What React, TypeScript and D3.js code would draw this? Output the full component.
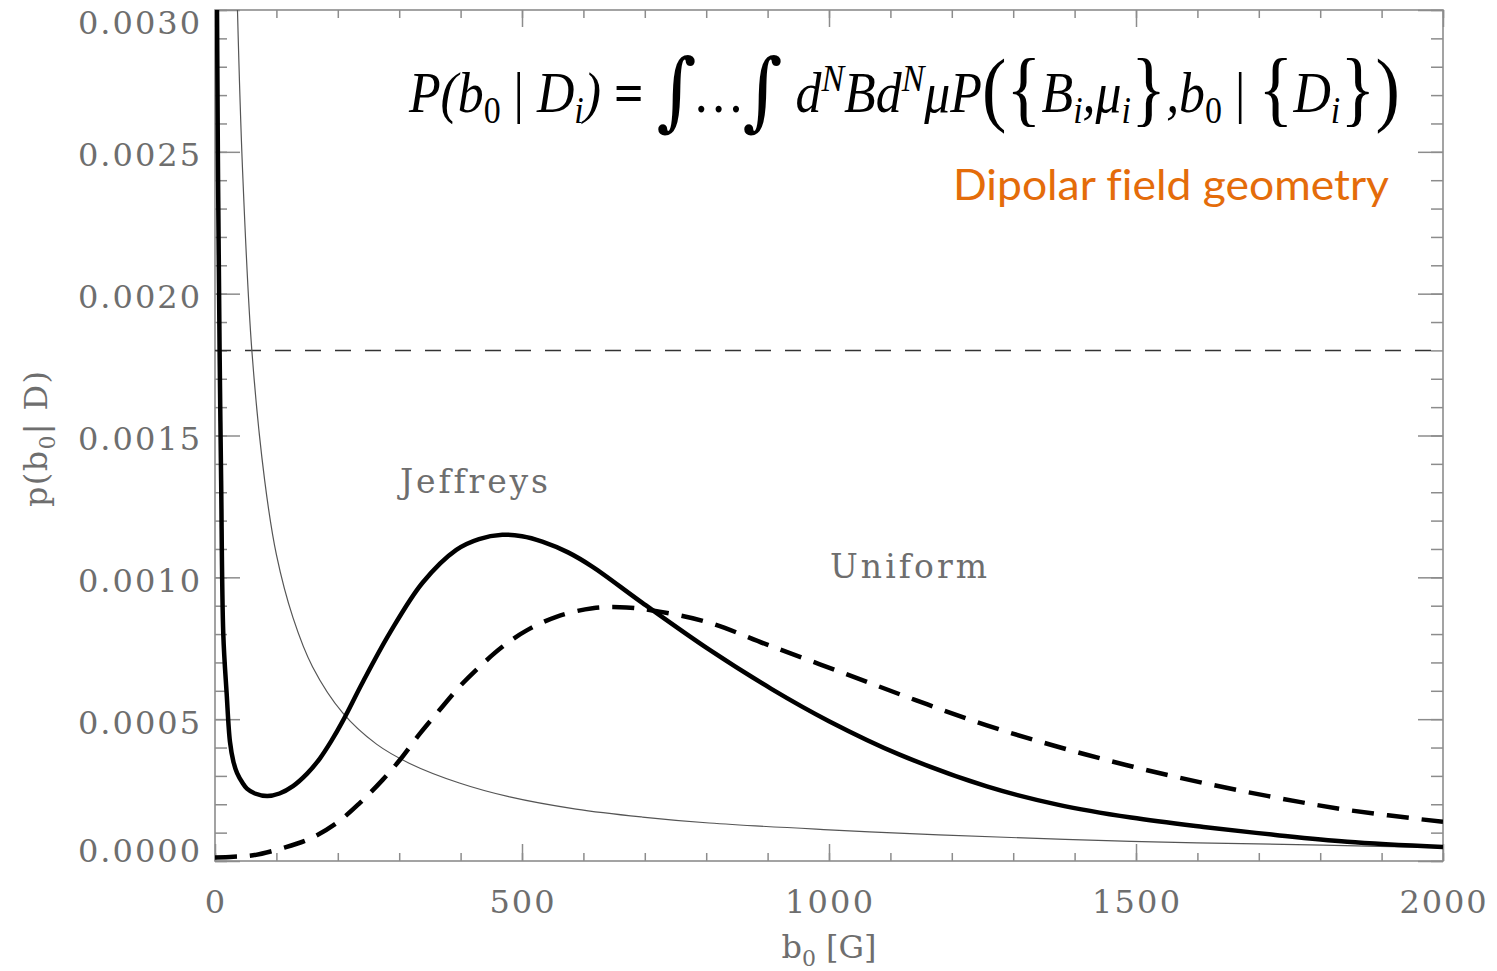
import React, { useEffect, useRef } from "react";
import * as d3 from "d3";

const W = 1497;
const H = 971;

// posterior with Jeffreys prior (thick solid)
const jeffreysB = [1, 2, 3, 5, 7.5, 10, 13.5, 19, 24.4, 30, 36, 45, 52, 65, 85, 105, 127, 150, 171, 190, 208, 241, 285, 338, 393, 430, 468, 500, 533, 575, 615, 696, 805, 906, 1000, 1114, 1257, 1374, 1492, 1610, 1727, 1844, 2000];
const jeffreysP = [0.0060, 0.0042, 0.0031, 0.0024, 0.0018, 0.00134, 0.0008, 0.00059, 0.00042, 0.00035, 0.00031, 0.000275, 0.000255, 0.000238, 0.000229, 0.000238, 0.000264, 0.000308, 0.000362, 0.000425, 0.000493, 0.000632, 0.000805, 0.000981, 0.001097, 0.001135, 0.00115, 0.001145, 0.001126, 0.001088, 0.001037, 0.00091, 0.000745, 0.000607, 0.000493, 0.000376, 0.000263, 0.000198, 0.000153, 0.00012, 0.000092, 0.000068, 0.000049];

// posterior with uniform prior (thick dashed)
const uniformB = [0, 30, 62, 111, 154, 198, 236, 273, 301, 333, 366, 398, 431, 468, 507, 556, 615, 670, 724, 805, 906, 1023, 1140, 1257, 1374, 1492, 1610, 1727, 1844, 2000];
const uniformP = [0.000012, 0.000015, 0.00002, 0.000046, 0.000078, 0.000134, 0.000205, 0.000286, 0.000356, 0.000447, 0.000533, 0.000614, 0.000685, 0.000755, 0.000812, 0.000861, 0.000891, 0.000894, 0.000879, 0.00084, 0.000757, 0.000663, 0.000568, 0.000478, 0.000402, 0.000334, 0.000275, 0.000224, 0.00018, 0.000138];

// the Jeffreys prior itself (thin gray)
const priorB = [20, 30, 36.6, 45, 60, 81, 100, 127, 159, 208, 263, 317, 398, 480, 588, 696, 805, 1000, 1179, 1492, 1805, 2000];
const priorP = [0.0055, 0.0037, 0.003, 0.00243, 0.0018, 0.00134, 0.00108, 0.000858, 0.000684, 0.000522, 0.000412, 0.000344, 0.000275, 0.000226, 0.000183, 0.000155, 0.000134, 0.00011, 0.000092, 0.000069, 0.000056, 0.000047];

const refLevel = 0.0018;

const xTicks = [0, 500, 1000, 1500, 2000];
const xTickLabels = ["0", "500", "1000", "1500", "2000"];
const yTicks = [0, 0.0005, 0.001, 0.0015, 0.002, 0.0025, 0.003];
const yTickLabels = ["0.0000", "0.0005", "0.0010", "0.0015", "0.0020", "0.0025", "0.0030"];

type Piece = { t: string; k?: "sub" | "subup" | "sup" | "big" | "int" | "up" | "eq" };
const equation: Piece[] = [
  { t: "P(b" }, { t: "0", k: "subup" }, { t: " | ", k: "up" }, { t: "D" }, { t: "i", k: "sub" }, { t: ")" },
  { t: " = ", k: "eq" }, { t: "\u222B", k: "int" }, { t: "\u2026" }, { t: "\u222B", k: "int" },
  { t: " d" }, { t: "N", k: "sup" }, { t: "Bd" }, { t: "N", k: "sup" }, { t: "\u03BCP" },
  { t: "(", k: "big" }, { t: "{", k: "big" }, { t: "B" }, { t: "i", k: "sub" }, { t: "," }, { t: "\u03BC" },
  { t: "i", k: "sub" }, { t: "}", k: "big" }, { t: "," }, { t: "b" }, { t: "0", k: "subup" }, { t: " | ", k: "up" },
  { t: "{", k: "big" }, { t: "D" }, { t: "i", k: "sub" }, { t: "}", k: "big" }, { t: ")", k: "big" },
];

const GRAY = "#6e6e6e";
const AXIS = "#8c8c8c";
const SERIF = "'DejaVu Serif', serif";

export default function App() {
  const svgRef = useRef<SVGSVGElement>(null);

  useEffect(() => {
    document.body.style.margin = "0";
    const svg = d3.select(svgRef.current);
    svg.selectAll("*").remove();

    const m = { left: 215, right: 1443, top: 10, bottom: 861 };
    const x = d3.scaleLinear().domain([0, 2000]).range([m.left, m.right]);
    const y = d3.scaleLinear().domain([0, 0.003]).range([m.bottom, m.top]);

    svg.append("defs").append("clipPath").attr("id", "plot")
      .append("rect")
      .attr("x", m.left).attr("y", m.top)
      .attr("width", m.right - m.left).attr("height", m.bottom - m.top);

    // ticks, all pointing inward
    const xMinor = d3.range(0, 2001, 100);
    const yMinor = d3.range(0, 31).map(i => i * 0.0001);
    const noLabel = () => "";
    const styleAxis = (g: any) => {
      g.select(".domain").remove();
      g.selectAll("line").attr("stroke", AXIS).attr("stroke-width", 1.5);
    };
    svg.append("g").attr("transform", `translate(0,${m.bottom})`)
      .call(d3.axisBottom(x).tickValues(xMinor).tickSize(-8).tickFormat(noLabel)).call(styleAxis);
    svg.append("g").attr("transform", `translate(0,${m.bottom})`)
      .call(d3.axisBottom(x).tickValues(xTicks).tickSize(-17).tickFormat(noLabel)).call(styleAxis);
    svg.append("g").attr("transform", `translate(0,${m.top})`)
      .call(d3.axisTop(x).tickValues(xMinor).tickSize(-8).tickFormat(noLabel)).call(styleAxis);
    svg.append("g").attr("transform", `translate(0,${m.top})`)
      .call(d3.axisTop(x).tickValues(xTicks).tickSize(-17).tickFormat(noLabel)).call(styleAxis);
    svg.append("g").attr("transform", `translate(${m.left},0)`)
      .call(d3.axisLeft(y).tickValues(yMinor).tickSize(-12).tickFormat(noLabel)).call(styleAxis);
    svg.append("g").attr("transform", `translate(${m.left},0)`)
      .call(d3.axisLeft(y).tickValues(yTicks).tickSize(-25).tickFormat(noLabel)).call(styleAxis);
    svg.append("g").attr("transform", `translate(${m.right},0)`)
      .call(d3.axisRight(y).tickValues(yMinor).tickSize(-12).tickFormat(noLabel)).call(styleAxis);
    svg.append("g").attr("transform", `translate(${m.right},0)`)
      .call(d3.axisRight(y).tickValues(yTicks).tickSize(-25).tickFormat(noLabel)).call(styleAxis);

    svg.append("rect")
      .attr("x", m.left).attr("y", m.top)
      .attr("width", m.right - m.left).attr("height", m.bottom - m.top)
      .attr("fill", "none").attr("stroke", AXIS).attr("stroke-width", 1.6);

    // tick labels
    const xw: Record<string, number> = { "0": 19, "500": 65, "1000": 88, "1500": 88, "2000": 87 };
    svg.append("g").selectAll("text").data(xTicks).join("text")
      .attr("x", d => x(d)).attr("y", 913)
      .attr("text-anchor", "middle")
      .attr("font-family", SERIF).attr("font-size", 32).attr("fill", GRAY)
      .attr("textLength", (d, i) => xw[xTickLabels[i]])
      .attr("lengthAdjust", "spacing")
      .text((d, i) => xTickLabels[i]);

    svg.append("g").selectAll("text").data(yTicks).join("text")
      .attr("x", 200)
      .attr("y", d => Math.max(34, Math.min(862, y(d) + 14.5)))
      .attr("text-anchor", "end")
      .attr("font-family", SERIF).attr("font-size", 32).attr("fill", GRAY)
      .attr("textLength", 122).attr("lengthAdjust", "spacing")
      .text((d, i) => yTickLabels[i]);

    // axis titles
    const xt = svg.append("text")
      .attr("x", 829).attr("y", 958).attr("text-anchor", "middle")
      .attr("font-family", SERIF).attr("font-size", 32).attr("fill", GRAY);
    xt.append("tspan").text("b");
    xt.append("tspan").attr("font-size", 22).attr("dy", 8).text("0");
    xt.append("tspan").attr("dy", -8).text(" [G]");

    const yt = svg.append("text")
      .attr("transform", "translate(47,439) rotate(-90)")
      .attr("text-anchor", "middle")
      .attr("font-family", SERIF).attr("font-size", 32).attr("fill", GRAY)
      .attr("textLength", 136).attr("lengthAdjust", "spacing");
    yt.append("tspan").text("p(b");
    yt.append("tspan").attr("font-size", 22).attr("dy", 8).text("0");
    yt.append("tspan").attr("dy", -8).text("| D)");

    // curves
    const plot = svg.append("g").attr("clip-path", "url(#plot)");
    const line = d3.line<[number, number]>()
      .x(d => x(d[0])).y(d => y(d[1]))
      .curve(d3.curveCatmullRom.alpha(0.5));

    plot.append("line")
      .attr("x1", m.left).attr("x2", m.right)
      .attr("y1", y(refLevel)).attr("y2", y(refLevel))
      .attr("stroke", "#333").attr("stroke-width", 1.5)
      .attr("stroke-dasharray", "16,14");

    plot.append("path")
      .attr("d", line(priorB.map((b, i) => [b, priorP[i]] as [number, number])))
      .attr("fill", "none").attr("stroke", "#555").attr("stroke-width", 1.2);

    plot.append("path")
      .attr("d", line(uniformB.map((b, i) => [b, uniformP[i]] as [number, number])))
      .attr("fill", "none").attr("stroke", "#000").attr("stroke-width", 4.5)
      .attr("stroke-dasharray", "22,13");

    plot.append("path")
      .attr("d", line(jeffreysB.map((b, i) => [b, jeffreysP[i]] as [number, number])))
      .attr("fill", "none").attr("stroke", "#000").attr("stroke-width", 4.5);

    // curve labels
    svg.append("text").attr("x", 400).attr("y", 493)
      .attr("font-family", SERIF).attr("font-size", 33).attr("fill", GRAY)
      .style("font-variant-ligatures", "none")
      .attr("textLength", 148).attr("lengthAdjust", "spacing")
      .text("Jeffreys");
    svg.append("text").attr("x", 830).attr("y", 578)
      .attr("font-family", SERIF).attr("font-size", 33).attr("fill", GRAY)
      .attr("textLength", 157).attr("lengthAdjust", "spacing")
      .text("Uniform");

    svg.append("text").attr("x", 953).attr("y", 200)
      .attr("font-family", "Lato, 'Open Sans', sans-serif").attr("font-size", 43)
      .attr("fill", "#E46C0A")
      .style("font-variant-ligatures", "none")
      .attr("textLength", 436).attr("lengthAdjust", "spacingAndGlyphs")
      .text("Dipolar field geometry");

    // equation
    const eqG = svg.append("g");
    const eq = eqG.append("text")
      .attr("x", 0).attr("y", 112)
      .attr("font-family", "'Liberation Serif', 'Times New Roman', serif")
      .attr("font-style", "italic").attr("font-size", 58).attr("fill", "#000");
    let cur = 0;
    equation.forEach(p => {
      let off = 0, size = 58, style = "italic", weight = "normal", fam: string | null = null;
      if (p.k === "sub") { off = 11; size = 38; }
      if (p.k === "subup") { off = 11; size = 38; style = "normal"; }
      if (p.k === "sup") { off = -21; size = 38; }
      if (p.k === "big") { off = 4; size = 82; style = "normal"; }
      if (p.k === "int") { off = 8; size = 86; style = "normal"; fam = "'DejaVu Serif', serif"; }
      if (p.k === "up") { style = "normal"; }
      if (p.k === "eq") { style = "normal"; weight = "bold"; }
      const ts = eq.append("tspan")
        .attr("dy", off - cur)
        .attr("font-size", size).attr("font-style", style).attr("font-weight", weight)
        .attr("xml:space", "preserve")
        .text(p.t);
      if (fam) ts.attr("font-family", fam);
      cur = off;
    });
    const bb = (eq.node() as SVGTextElement).getBBox();
    const sx = (1400 - 408) / bb.width;
    eqG.attr("transform", `translate(${408 - bb.x * sx},0) scale(${sx},1)`);
  }, []);

  return <svg ref={svgRef} width={W} height={H} style={{ display: "block", background: "#fff" }} />;
}
